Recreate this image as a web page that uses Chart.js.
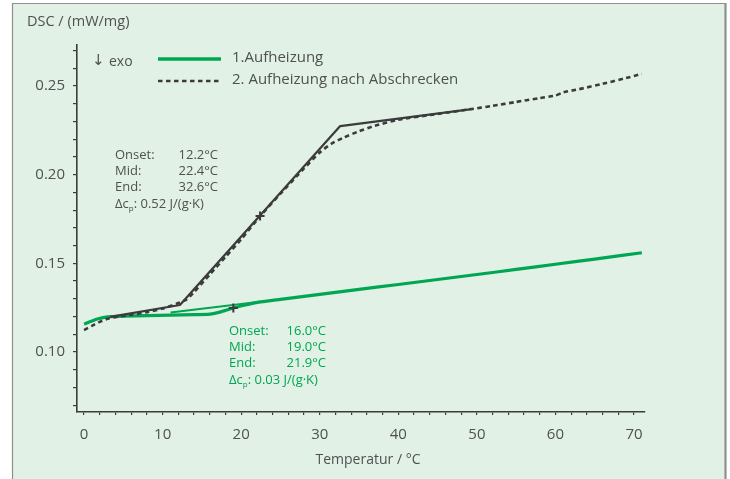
<!DOCTYPE html>
<html>
<head>
<meta charset="utf-8">
<script src="https://cdn.jsdelivr.net/npm/chart.js@4.4.1/dist/chart.umd.min.js"></script>
<style>
  html, body { margin: 0; padding: 0; background: #ffffff; }
  canvas { display: block; }
</style>
</head>
<body>
<canvas id="dsc" width="730" height="479"></canvas>
<script>
// 1. Aufheizung (first heating), DSC signal in mW/mg over temperature in °C
const heat1Temp = [0, 0.8, 1.8, 3, 5, 8, 11, 14, 16.0, 17.5, 19.0, 20.5, 21.9, 25, 30, 35, 40, 45, 50, 55, 60, 65, 71];
const heat1Dsc  = [0.1158, 0.1172, 0.1188, 0.1198, 0.1202, 0.1205, 0.1208, 0.1211, 0.1214, 0.1228, 0.1248, 0.1265, 0.1279,
                   0.1297, 0.1325, 0.1353, 0.1381, 0.1409, 0.1437, 0.1466, 0.1495, 0.1524, 0.1560];

// extrapolated baseline after the first-heating step
const heat1TangentTemp = [11, 22.4];
const heat1TangentDsc  = [0.1223, 0.1284];

// 2. Aufheizung nach Abschrecken (second heating after quenching)
const heat2Temp = [0, 1, 2, 3, 4.5, 6, 8, 10, 12, 13, 14, 16, 18, 20, 22.4, 25, 28, 30, 31.5, 33, 35, 37, 40,
                   45, 49, 52, 55, 58, 60, 61, 63, 66, 69, 71];
const heat2Dsc  = [0.1124, 0.1148, 0.1170, 0.1188, 0.1200, 0.1210, 0.1225, 0.1245, 0.1276, 0.1295, 0.1338, 0.1437,
                   0.1536, 0.1636, 0.1765, 0.1893, 0.2035, 0.2125, 0.2175, 0.2208, 0.2245, 0.2275, 0.2310,
                   0.2342, 0.2368, 0.2388, 0.2410, 0.2432, 0.2446, 0.2464, 0.2482, 0.2512, 0.2545, 0.2568];

// glass transition construction of the second heating: baseline, step tangent, upper baseline
const heat2TangentTemp = [3.3, 12.2, 32.6, 49.1];
const heat2TangentDsc  = [0.1198, 0.1265, 0.2274, 0.2368];

// midpoints of both transitions
const midTemp = [22.4, 19.0];
const midDsc  = [0.1767, 0.1248];

// axis ticks
const xTickValues = [0, 2, 4, 6, 8, 10, 12, 14, 16, 18, 20, 22, 24, 26, 28, 30, 32, 34, 36, 38, 40,
                     42, 44, 46, 48, 50, 52, 54, 56, 58, 60, 62, 64, 66, 68, 70];
const xTickLabels = ['0', '10', '20', '30', '40', '50', '60', '70'];
const yTickValues = [0.07, 0.08, 0.09, 0.10, 0.11, 0.12, 0.13, 0.14, 0.15, 0.16, 0.17, 0.18, 0.19,
                     0.20, 0.21, 0.22, 0.23, 0.24, 0.25, 0.26, 0.27];
const yTickLabels = ['0.10', '0.15', '0.20', '0.25'];

// legend and result texts
const legendItems = ['1.Aufheizung', '2. Aufheizung nach Abschrecken'];
const resultRows2 = [['Onset:', '12.2°C'], ['Mid:', '22.4°C'], ['End:', '32.6°C']];
const resultDcp2 = ': 0.52 J/(g·K)';
const resultRows1 = [['Onset:', '16.0°C'], ['Mid:', '19.0°C'], ['End:', '21.9°C']];
const resultDcp1 = ': 0.03 J/(g·K)';

const GREEN = '#00a651';
const DARK = '#3b3b3b';
const TEXT = '#505050';
const FONT = '"Open Sans", "Noto Sans", sans-serif';

const toPoints = (xs, ys) => xs.map((x, i) => ({ x: x, y: ys[i] }));

const panelPlugin = {
  id: 'panel',
  beforeDraw(chart) {
    const ctx = chart.ctx;
    ctx.save();
    ctx.fillStyle = '#ffffff';
    ctx.fillRect(0, 0, chart.width, chart.height);
    ctx.fillStyle = '#e1f1e6';
    ctx.fillRect(12, 3, 714, chart.height - 3);
    ctx.strokeStyle = '#8f8f8f';
    ctx.lineWidth = 1.2;
    ctx.beginPath();
    ctx.moveTo(12.5, chart.height);
    ctx.lineTo(12.5, 3.5);
    ctx.lineTo(725, 3.5);
    ctx.stroke();
    ctx.lineWidth = 2.2;
    ctx.beginPath();
    ctx.moveTo(725.5, 3);
    ctx.lineTo(725.5, chart.height);
    ctx.stroke();
    ctx.restore();
  }
};

function drawResults(ctx, x, xRight, y0, color, rows, dcpText) {
  ctx.fillStyle = color;
  ctx.textBaseline = 'middle';
  ctx.font = '13px ' + FONT;
  rows.forEach((r, i) => {
    const y = y0 + i * 16;
    ctx.textAlign = 'left';
    ctx.fillText(r[0], x, y);
    ctx.textAlign = 'right';
    ctx.fillText(r[1], xRight, y);
  });
  const y = y0 + 3 * 16 + 1.5;
  ctx.textAlign = 'left';
  ctx.fillText('Δc', x, y);
  let w = ctx.measureText('Δc').width;
  ctx.font = '8px ' + FONT;
  ctx.fillText('p', x + w, y + 4);
  w += ctx.measureText('p').width;
  ctx.font = '13px ' + FONT;
  ctx.fillText(dcpText, x + w, y);
}

const textPlugin = {
  id: 'texts',
  afterDraw(chart) {
    const ctx = chart.ctx;
    ctx.save();
    // axis titles
    ctx.fillStyle = TEXT;
    ctx.textBaseline = 'middle';
    ctx.textAlign = 'left';
    ctx.font = '14.5px ' + FONT;
    ctx.fillText('DSC / (mW/mg)', 27, 22);
    ctx.font = '14px ' + FONT;
    ctx.textAlign = 'center';
    ctx.fillText('Temperatur / °C', 368, 460);

    // legend
    ctx.textAlign = 'left';
    ctx.font = '15px "DejaVu Sans", sans-serif';
    ctx.fillText('↓', 92, 61);
    ctx.font = '14px ' + FONT;
    ctx.fillText('exo', 109, 62);
    ctx.strokeStyle = GREEN;
    ctx.lineWidth = 3.5;
    ctx.beginPath();
    ctx.moveTo(158, 59);
    ctx.lineTo(221, 59);
    ctx.stroke();
    ctx.strokeStyle = DARK;
    ctx.lineWidth = 2.6;
    ctx.setLineDash([4.5, 3.5]);
    ctx.beginPath();
    ctx.moveTo(158, 81);
    ctx.lineTo(221, 81);
    ctx.stroke();
    ctx.setLineDash([]);
    ctx.fillStyle = TEXT;
    ctx.font = '15px ' + FONT;
    ctx.fillText(legendItems[0], 232, 58);
    ctx.fillText(legendItems[1], 232, 80);

    // transition results
    drawResults(ctx, 115, 218, 155, TEXT, resultRows2, resultDcp2);
    drawResults(ctx, 229, 326, 331, GREEN, resultRows1, resultDcp1);
    ctx.restore();
  }
};

const tickFont = { family: FONT, size: 15 };

new Chart(document.getElementById('dsc'), {
  type: 'line',
  data: {
    datasets: [
      {
        label: 'Mid',
        data: toPoints(midTemp, midDsc),
        showLine: false,
        pointStyle: 'cross',
        pointRadius: 4.5,
        pointBorderWidth: 2,
        pointBorderColor: DARK,
        order: 0
      },
      {
        label: 'Tangenten 2',
        data: toPoints(heat2TangentTemp, heat2TangentDsc),
        borderColor: DARK,
        borderWidth: 2.2,
        pointRadius: 0,
        order: 1
      },
      {
        label: legendItems[1],
        data: toPoints(heat2Temp, heat2Dsc),
        borderColor: DARK,
        borderWidth: 2.6,
        borderDash: [4.5, 3.5],
        pointRadius: 0,
        tension: 0.2,
        order: 2
      },
      {
        label: 'Tangente 1',
        data: toPoints(heat1TangentTemp, heat1TangentDsc),
        borderColor: GREEN,
        borderWidth: 2,
        pointRadius: 0,
        order: 3
      },
      {
        label: legendItems[0],
        data: toPoints(heat1Temp, heat1Dsc),
        borderColor: GREEN,
        borderWidth: 3.2,
        pointRadius: 0,
        tension: 0.2,
        order: 4
      }
    ]
  },
  options: {
    responsive: false,
    animation: false,
    devicePixelRatio: 1,
    layout: { padding: { left: 0, top: 45, right: 85, bottom: 0 } },
    plugins: { legend: { display: false }, tooltip: { enabled: false } },
    elements: { line: { borderCapStyle: 'butt', borderJoinStyle: 'round' } },
    scales: {
      x: {
        type: 'linear',
        min: -0.9,
        max: 71.4,
        afterFit(scale) { scale.height = 67; },
        afterBuildTicks(scale) { scale.ticks = xTickValues.map(v => ({ value: v })); },
        grid: { display: true, drawOnChartArea: false, drawTicks: true, tickLength: 3, color: DARK, lineWidth: 1.2 },
        border: { display: true, color: DARK, width: 1.6 },
        ticks: {
          autoSkip: false,
          maxRotation: 0,
          padding: 11,
          color: TEXT,
          font: tickFont,
          callback: (v) => { const s = String(v); return xTickLabels.includes(s) ? s : ''; }
        }
      },
      y: {
        type: 'linear',
        min: 0.0662,
        max: 0.2731,
        afterFit(scale) { scale.width = 77; },
        afterBuildTicks(scale) { scale.ticks = yTickValues.map(v => ({ value: v })); },
        grid: { display: true, drawOnChartArea: false, drawTicks: true, tickLength: 4, color: DARK, lineWidth: 1.2 },
        border: { display: true, color: DARK, width: 1.6 },
        ticks: {
          autoSkip: false,
          padding: 8,
          color: TEXT,
          font: tickFont,
          callback: (v) => { const s = Number(v).toFixed(2); return yTickLabels.includes(s) ? s : ''; }
        }
      }
    }
  },
  plugins: [panelPlugin, textPlugin]
});
</script>
</body>
</html>
